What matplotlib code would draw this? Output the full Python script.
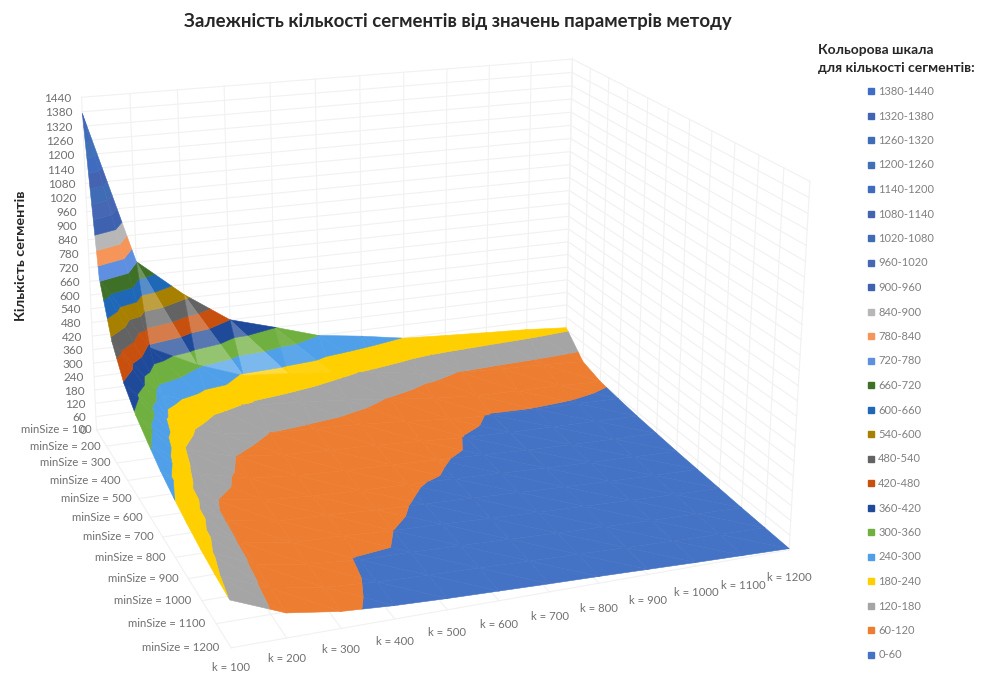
import numpy as np
import matplotlib
matplotlib.use("Agg")
import matplotlib.pyplot as plt
from matplotlib.collections import PolyCollection
from matplotlib.lines import Line2D

plt.rcParams['font.family'] = ['Lato', 'Noto Sans', 'DejaVu Sans']

k_values = [100, 200, 300, 400, 500, 600, 700, 800, 900, 1000, 1100, 1200]
min_sizes = [100, 200, 300, 400, 500, 600, 700, 800, 900, 1000, 1100, 1200]
z_ticks = list(range(0, 1441, 60))

# Number of segments: one row per minSize, one column per k
segments = np.array([
    [1373, 724, 557, 420, 362, 300, 272, 238, 226, 215, 205, 190],
    [732, 408, 308, 234, 217, 194, 170, 140, 118, 109, 102, 92],
    [526, 268, 199, 171, 157, 139, 117, 93, 78, 74, 71, 64],
    [416, 207, 144, 120, 111, 101, 86, 68, 58, 59, 57, 52],
    [352, 177, 120, 98, 88, 81, 70, 59, 52, 49, 46, 42],
    [310, 151, 103, 84, 76, 70, 62, 55, 47, 42, 38, 35],
    [271, 124, 89, 75, 68, 62, 57, 50, 43, 37, 33, 28],
    [243, 116, 82, 76, 64, 58, 52, 45, 38, 32, 27, 23],
    [220, 111, 77, 72, 60, 55, 47, 40, 34, 28, 22, 18],
    [201, 107, 74, 58, 55, 49, 42, 35, 29, 23, 18, 13],
    [188, 101, 70, 56, 49, 43, 37, 31, 25, 19, 14, 9],
    [179, 95, 65, 52, 44, 38, 32, 27, 21, 15, 10, 5],
], dtype=float)

band_edges = [60 * i for i in range(25)]
band_labels = [f'{band_edges[b]}-{band_edges[b + 1]}' for b in range(24)]
band_colors = ['#4472C4', '#ED7D31', '#A5A5A5', '#FFCF00', '#4FA0E8', '#70B040',
               '#1F4A9A', '#C8500F', '#636363', '#A88000', '#1F68B8', '#3F7028',
               '#5F8FE0', '#F6955A', '#B7B7B7', '#3F62B0', '#4668B4', '#3F6CB4',
               '#4464B2', '#3F6CBE', '#3F70B8', '#3F6CB8', '#4264B4', '#3F6CC4']

# Perspective camera calibrated on the corners of the chart box
Z_UNIT = 1440 / 11.0
box_corners = [((0, 0, 0), (97, 430)), ((0, 0, 1440), (82, 97)),
               ((11, 0, 0), (565, 368)), ((11, 0, 1440), (572, 58)),
               ((11, 11, 0), (790, 548)), ((11, 11, 1440), (810, 183)),
               ((0, 11, 0), (230, 648))]


def solve_camera():
    rows, rhs = [], []
    for (x, y, z), (u, v) in box_corners:
        X = [x, y, z / Z_UNIT, 1]
        rows.append(X + [0, 0, 0, 0] + [-u * c for c in X[:3]])
        rhs.append(u)
        rows.append([0, 0, 0, 0] + X + [-v * c for c in X[:3]])
        rhs.append(v)
    p = np.linalg.lstsq(np.array(rows, float), np.array(rhs, float), rcond=None)[0]
    return np.append(p, 1).reshape(3, 4)


CAM = solve_camera()


def project(x, y, z):
    x, y, z = np.atleast_1d(x).astype(float), np.atleast_1d(y).astype(float), np.atleast_1d(z).astype(float)
    h = CAM @ np.array([x, y, z / Z_UNIT, np.ones_like(x)])
    return h[0] / h[2], h[1] / h[2]


def clip(poly, level, keep_above):
    out = []
    for t in range(len(poly)):
        a, b = poly[t], poly[(t + 1) % len(poly)]
        ina = a[2] >= level if keep_above else a[2] <= level
        inb = b[2] >= level if keep_above else b[2] <= level
        if ina:
            out.append(a)
        if ina != inb:
            s = (level - a[2]) / (b[2] - a[2])
            out.append(tuple(a[c] + s * (b[c] - a[c]) for c in range(3)))
    return out


def facet_light(i, dz_k, dz_m):
    # Facets falling steeply along minSize catch the light; the first k column stays flat-toned
    if i == 0:
        return 0.0
    return float(np.clip((abs(dz_m) - 1.5 * abs(dz_k) - 100) / 150, 0, 0.25))


def tone(color, f):
    c = np.array(matplotlib.colors.to_rgb(color))
    return tuple(c + (1 - c) * f)


fig = plt.figure(figsize=(9.82, 6.73), dpi=100)
ax = fig.add_axes([0, 0, 1, 1])
ax.set_xlim(0, 982)
ax.set_ylim(673, 0)
ax.axis('off')

grid_color = '#f1f1f1'


def grid_line(a, b):
    u, v = project([a[0], b[0]], [a[1], b[1]], [a[2], b[2]])
    ax.plot(u, v, color=grid_color, lw=0.8, zorder=1)


for i in range(12):
    grid_line((i, 0, 0), (i, 0, 1440))
    grid_line((11, i, 0), (11, i, 1440))
    grid_line((i, 0, 0), (i, 11, 0))
    grid_line((0, i, 0), (11, i, 0))
for z in z_ticks:
    grid_line((0, 0, z), (11, 0, z))
    grid_line((11, 0, z), (11, 11, z))

# Surface split into colour bands, painted from the far corner forward
verts, cols = [], []
for j in range(11):
    for i in range(10, -1, -1):
        Z = segments
        tri_a = [(i, j, Z[j, i]), (i + 1, j, Z[j, i + 1]), (i + 1, j + 1, Z[j + 1, i + 1])]
        tri_b = [(i, j, Z[j, i]), (i + 1, j + 1, Z[j + 1, i + 1]), (i, j + 1, Z[j + 1, i])]
        light_a = facet_light(i, Z[j, i + 1] - Z[j, i], Z[j + 1, i + 1] - Z[j, i + 1])
        light_b = facet_light(i, Z[j + 1, i + 1] - Z[j + 1, i], Z[j + 1, i] - Z[j, i])
        for tri, f in ((tri_a, light_a), (tri_b, light_b)):
            zs = [t[2] for t in tri]
            for b in range(24):
                if max(zs) < band_edges[b] or min(zs) > band_edges[b + 1]:
                    continue
                q = clip(tri, band_edges[b], True)
                if q:
                    q = clip(q, band_edges[b + 1], False)
                if len(q) < 3:
                    continue
                q = np.array(q)
                u, v = project(q[:, 0], q[:, 1], q[:, 2])
                verts.append(np.c_[u, v])
                cols.append(tone(band_colors[b], f))
ax.add_collection(PolyCollection(verts, facecolors=cols, edgecolors=cols, linewidths=0.4, zorder=3))

tick_color = '#707070'
for z in z_ticks:
    u, v = project(0, 0, z)
    ax.text(u[0] - 10, v[0] + 1, str(z), ha='right', va='center', fontsize=8.5, color=tick_color, zorder=5)
for j, m in enumerate(min_sizes):
    u, v = project(0, j, 0)
    ax.text(u[0] - 5 - 7 * j / 11, v[0], f'minSize = {m}', ha='right', va='center', fontsize=8.2, color=tick_color, zorder=5)
for i, kv in enumerate(k_values):
    u, v = project(i, 11, 0)
    ax.text(u[0], v[0] + 20 + 8 * i / 11, f'k = {kv}', ha='center', va='center', fontsize=8.2, color=tick_color, zorder=5)

dark = '#262626'
ax.text(458, 22, 'Залежність кількості сегментів від значень параметрів методу',
        ha='center', va='center', fontsize=13.4, fontweight='bold', color=dark)
ax.text(21, 256, 'Кількість сегментів', rotation=90, ha='center', va='center',
        fontsize=10.4, fontweight='bold', color=dark)
ax.text(818, 50, 'Кольорова шкала', ha='left', va='center', fontsize=10, fontweight='bold', color=dark)
ax.text(818, 68, 'для кількості сегментів:', ha='left', va='center', fontsize=10, fontweight='bold', color=dark)

handles = [Line2D([], [], marker='s', ls='none', ms=4.5, color=band_colors[b]) for b in range(24)]
ax.legend(handles[::-1], band_labels[::-1], loc='upper left', bbox_to_anchor=(860, 86),
          bbox_transform=ax.transData, frameon=False, fontsize=8, labelspacing=1.215,
          handletextpad=-0.36, borderpad=0, borderaxespad=0, labelcolor='#808080')

fig.savefig('out.png', dpi=100)
